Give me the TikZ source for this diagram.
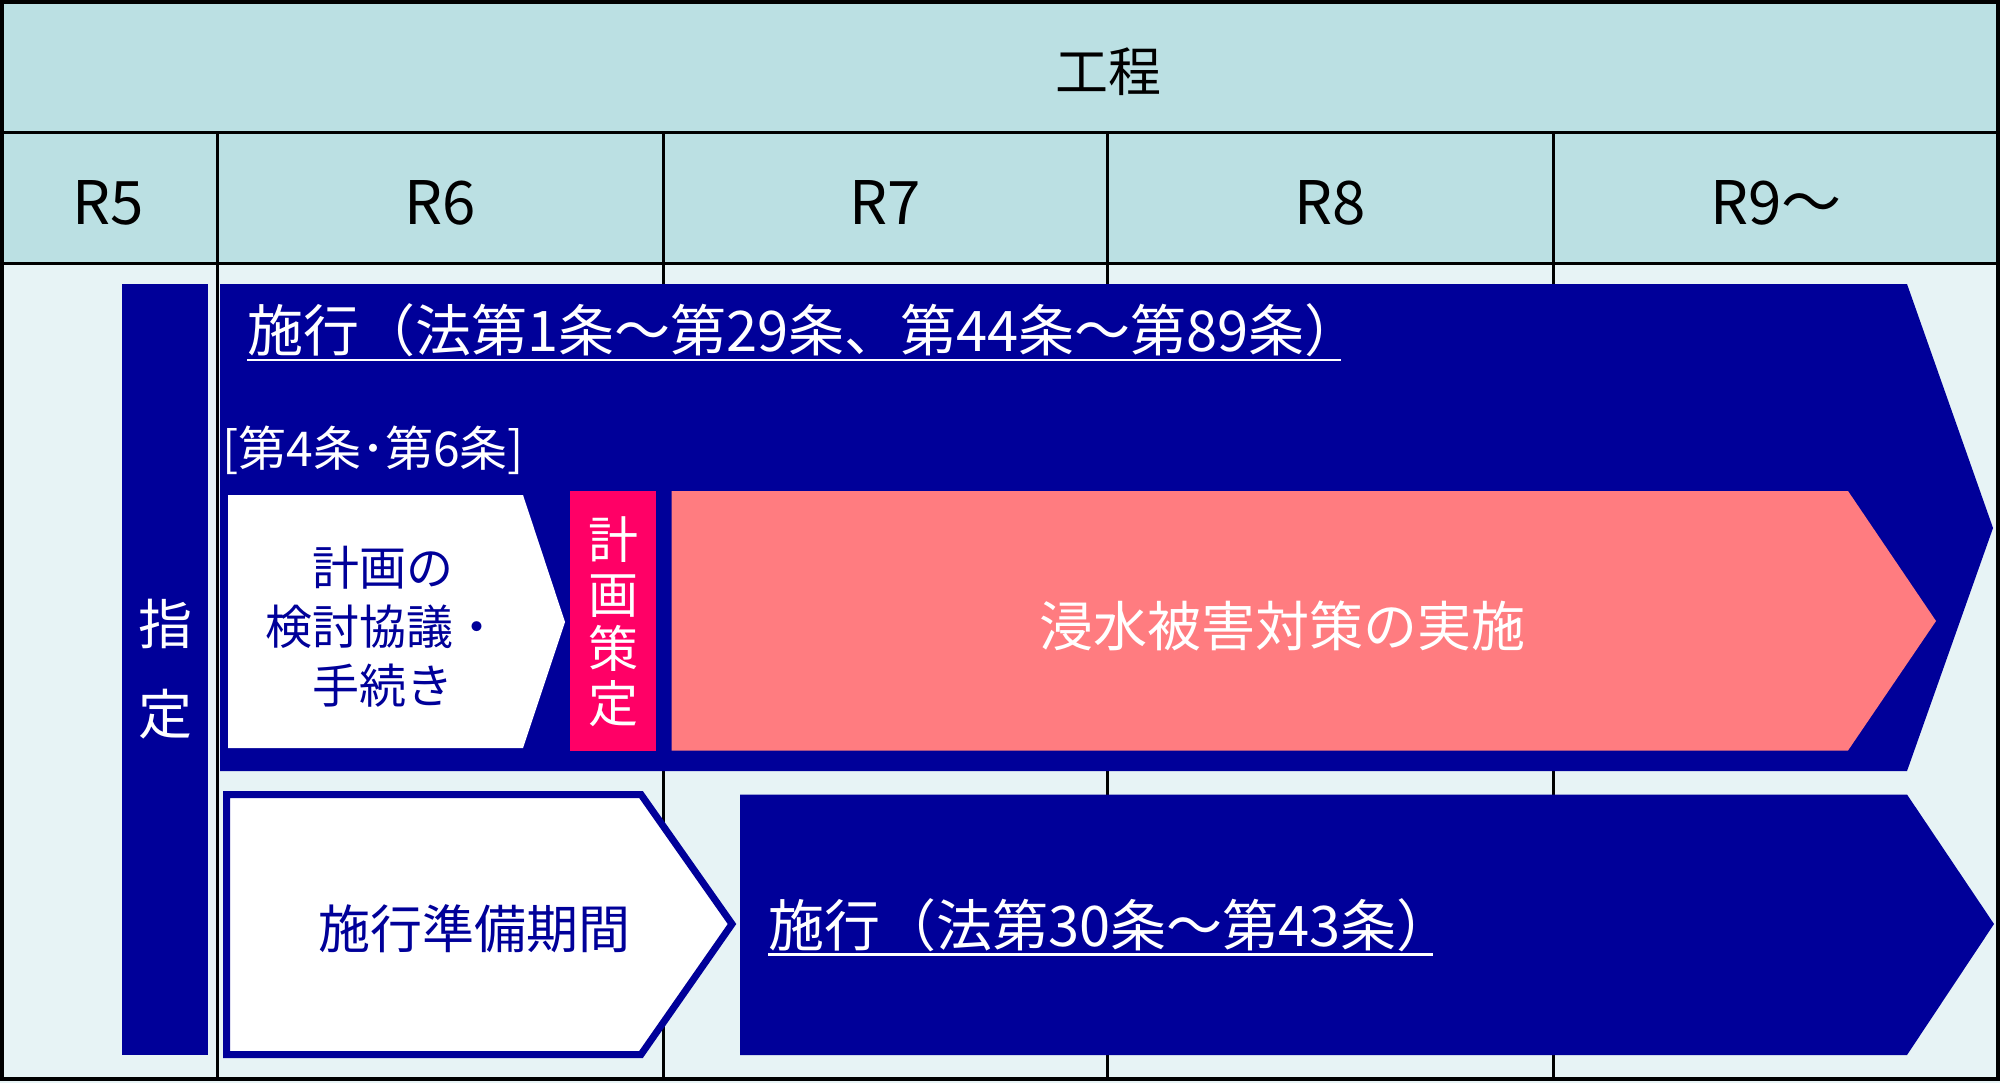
\documentclass[tikz,border=0pt]{standalone}
\usepackage{fontspec}
\setmainfont{Noto Sans CJK JP}
\definecolor{headbg}{HTML}{BBE0E3}
\definecolor{bodybg}{HTML}{E7F3F5}
\definecolor{navy}{HTML}{000099}
\definecolor{planpink}{HTML}{FF0066}
\definecolor{salmon}{HTML}{FF7C80}
\newcommand{\lawline}[1]{\setbox0\hbox{#1}\rlap{\rule[-4.9pt]{\dimexpr\wd0-0.35em\relax}{1.2pt}}\box0}

\begin{document}
\begin{tikzpicture}[x=0.5pt,y=-0.5pt,
    yearlabel/.style={font=\fontsize{30pt}{30pt}\selectfont},
    lawlabel/.style={font=\fontsize{28pt}{30pt}\selectfont,text=white,anchor=base west,inner sep=0pt}]
      \useasboundingbox (0,0) rectangle (2000,1083);
      % table
      \fill[bodybg] (0,0) rectangle (2000,1083);
      \fill[headbg] (0,0) rectangle (2000,263);
      \draw[line width=1.5pt] (0,132) -- (2000,132);
      \draw[line width=1.5pt] (0,263) -- (2000,263);
      \foreach \x in {217,663,1107,1553}
        \draw[line width=1.5pt] (\x,132) -- (\x,1079);
      \draw[line width=2pt] (1.5,1.5) rectangle (1998,1079);
      % bars
      \fill[navy] (122,284) rectangle (208,1055);
      \fill[navy] (220,284) -- (1907,284) -- (1993,528) -- (1907,771) -- (220,771) -- cycle;
      \fill[white] (228,495) -- (523,495) -- (565,622) -- (523,748) -- (228,748) -- cycle;
      \fill[planpink] (569.5,491) rectangle (656,750.5);
      \fill[salmon] (671.5,491) -- (1848,491) -- (1936,621) -- (1848,750.5) -- (671.5,750.5) -- cycle;
      \draw[navy,fill=white,line width=3.5pt] (226.5,794.5) -- (641,794.5) -- (732,924) -- (641,1054.5) -- (226.5,1054.5) -- cycle;
      \fill[navy] (740,794.5) -- (1907,794.5) -- (1994,924) -- (1907,1055) -- (740,1055) -- cycle;
      % texts
      \node[font=\fontsize{26.5pt}{30pt}\selectfont] (process) at (1108,72) {工程};
      \node[yearlabel] (r5) at (108.5,202.5) {R5};
      \node[yearlabel] (r6) at (440,202.5) {R6};
      \node[yearlabel] (r7) at (885,202.5) {R7};
      \node[yearlabel] (r8) at (1330,202.5) {R8};
      \node[yearlabel] (r9) at (1776,202.5) {R9〜};
      \node[lawlabel] (lawa) at (247,351.5) {\lawline{施行（法第1条〜第29条、第44条〜第89条）}};
      \node[font=\fontsize{24pt}{30pt}\selectfont,text=white,anchor=west,inner sep=0pt] (art46) at (222,450) {[第4条･第6条]};
      \node[font=\fontsize{27pt}{45pt}\selectfont,text=white,align=center] (shitei) at (165,669.5) {指\\定};
      \node[font=\fontsize{23.5pt}{29.5pt}\selectfont,text=navy,align=center] (kyogi) at (383,626.5) {計画の\\検討協議・\\手続き};
      \node[font=\fontsize{25pt}{27.3pt}\selectfont,text=white,align=center] (sakutei) at (613,621.5) {計\\画\\策\\定};
      \node[font=\fontsize{27pt}{30pt}\selectfont,text=white] (taisaku) at (1282,626) {浸水被害対策の実施};
      \node[font=\fontsize{26pt}{30pt}\selectfont,text=navy] (junbi) at (474,929) {施行準備期間};
      \node[lawlabel] (lawb) at (768,946) {\lawline{施行（法第30条〜第43条）}};
    \end{tikzpicture}
\end{document}
